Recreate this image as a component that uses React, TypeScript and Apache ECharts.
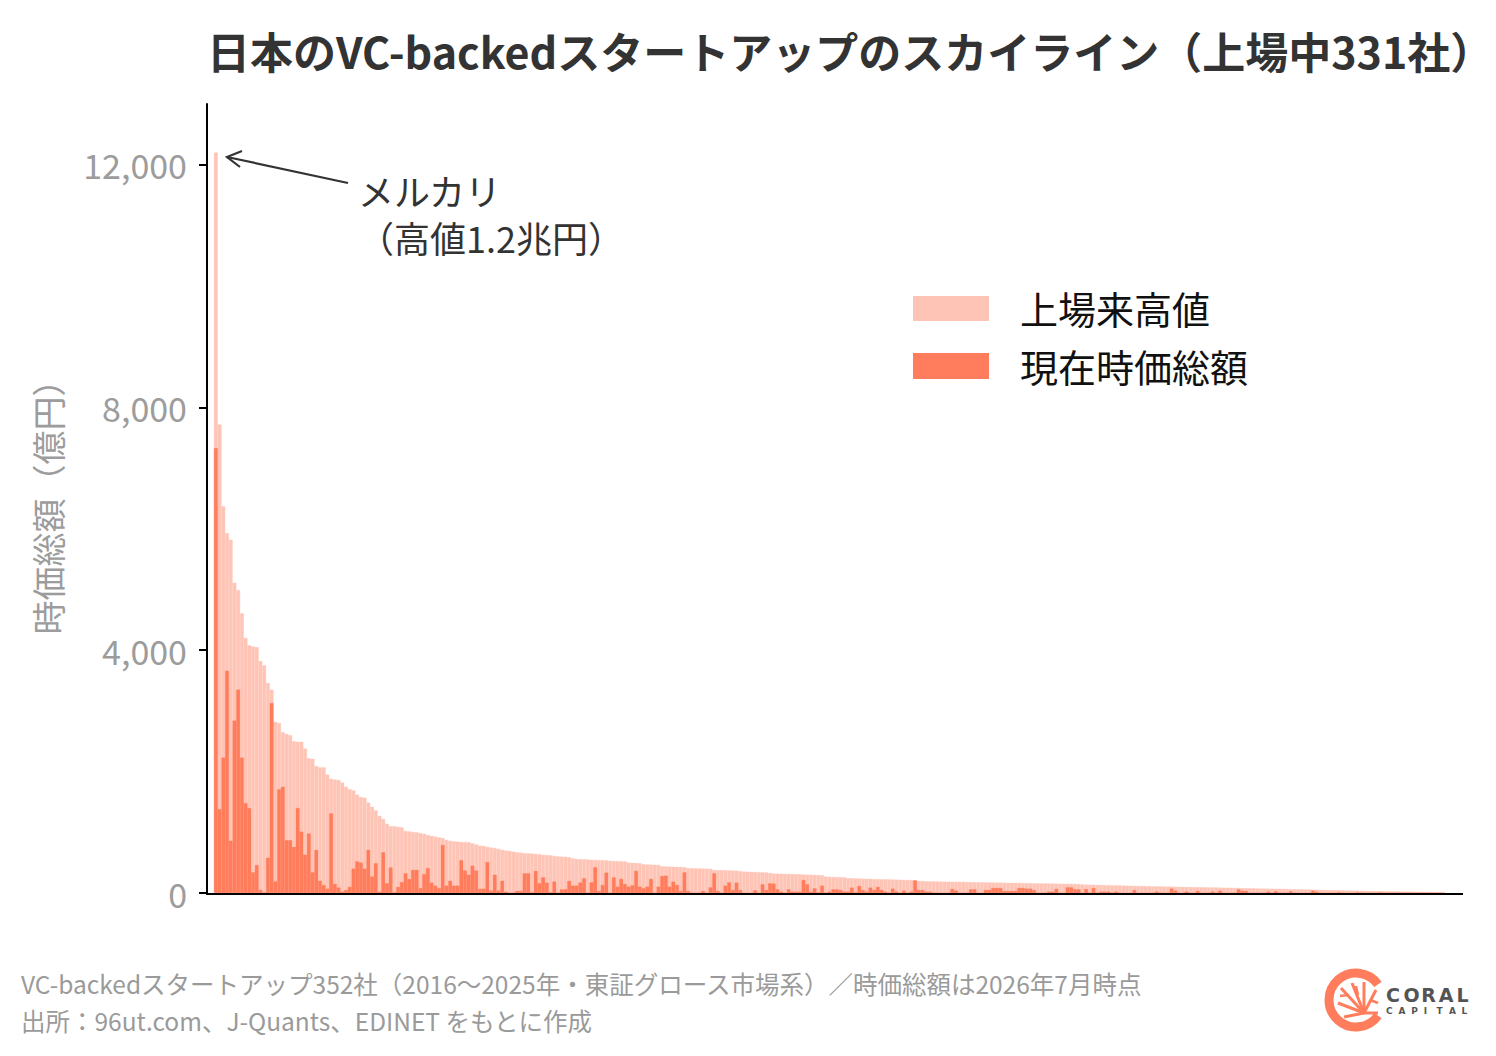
import React, { useEffect, useRef } from "react";
import * as echarts from "echarts";

const FONT = '"Noto Sans CJK JP", "Noto Sans", sans-serif';
const LIGHT = "#FEC5B7";
const DARK = "#FF7D5C";

const titleText = "日本のVC-backedスタートアップのスカイライン（上場中331社）";
const seriesNames = ["上場来高値", "現在時価総額"];
const yAxisName = "時価総額（億円）";
const yTicks = [0, 4000, 8000, 12000];
const annotationLines = ["メルカリ", "（高値1.2兆円）"];
const footnoteLines = [
  "VC-backedスタートアップ352社（2016〜2025年・東証グロース市場系）／時価総額は2026年7月時点",
  "出所：96ut.com、J-Quants、EDINET をもとに作成",
];
const logoWord1 = "CORAL";
const logoWord2 = "CAPITAL";

// 上場来高値 (億円), ranked
const highValues = [
  12200, 7720, 6370, 5930, 5820, 5110, 4990, 4610, 4200, 4080,
  4060, 4050, 3820, 3750, 3460, 3350, 2820, 2800, 2650, 2620,
  2600, 2500, 2490, 2490, 2380, 2220, 2210, 2090, 2070, 2070,
  1950, 1880, 1870, 1860, 1820, 1750, 1710, 1690, 1620, 1580,
  1570, 1490, 1420, 1360, 1270, 1220, 1140, 1100, 1100, 1090,
  1080, 1020, 1015, 1005, 1000, 985, 975, 955, 940, 928,
  915, 905, 875, 860, 850, 845, 840, 838, 835, 818,
  800, 780, 775, 760, 748, 740, 725, 710, 700, 692,
  680, 670, 665, 655, 653, 650, 643, 640, 628, 626,
  620, 610, 602, 599, 595, 590, 570, 560, 558, 556,
  552, 546, 544, 542, 540, 538, 530, 527, 525, 522,
  520, 500, 498, 495, 490, 473, 470, 468, 465, 462,
  440, 436, 434, 432, 430, 428, 425, 410, 408, 406,
  404, 402, 400, 398, 380, 378, 377, 375, 372, 370,
  368, 360, 352, 350, 348, 346, 343, 340, 338, 330,
  320, 318, 316, 315, 314, 312, 310, 308, 304, 302,
  300, 298, 296, 294, 270, 266, 264, 262, 260, 258,
  245, 242, 240, 238, 236, 234, 232, 230, 228, 226,
  225, 224, 222, 220, 218, 216, 214, 212, 200, 198,
  196, 194, 192, 190, 189, 188, 187, 186, 185, 184,
  183, 182, 180, 179, 178, 177, 176, 175, 174, 172,
  171, 170, 169, 168, 167, 166, 165, 164, 163, 162,
  160, 159, 158, 157, 156, 155, 154, 153, 152, 151,
  150, 149, 148, 140, 138, 136, 135, 134, 132, 130,
  128, 127, 126, 124, 122, 120, 119, 118, 116, 115,
  113, 112, 110, 109, 108, 106, 105, 104, 102, 101,
  100, 99, 98, 97, 96, 95, 94, 92, 91, 90,
  89, 87, 86, 85, 83, 82, 80, 79, 77, 76,
  74, 73, 72, 71, 70, 69, 68, 67, 66, 64,
  63, 62, 60, 58, 57, 55, 54, 52, 51, 49,
  48, 47, 45, 44, 42, 41, 39, 38, 36, 35,
  33, 32, 31, 30, 29, 28, 27, 26, 25, 24,
  23, 22, 21, 20, 19, 18, 17, 16, 15, 13, 11,
];

// 現在時価総額 (億円), same order
const currentValues = [
  7330, 1380, 2230, 3660, 860, 2840, 3350, 2230, 1480, 1400,
  340, 460, 50, 10, 580, 3130, 190, 1710, 1750, 870,
  870, 760, 1400, 1010, 630, 980, 340, 710, 200, 130,
  70, 1310, 150, 90, 20, 50, 100, 400, 520, 500,
  400, 710, 270, 490, 20, 670, 160, 420, 10, 100,
  180, 324, 230, 380, 380, 80, 310, 410, 170, 120,
  80, 790, 120, 200, 120, 120, 540, 370, 300, 450,
  370, 66, 70, 510, 40, 300, 40, 200, 20, 0,
  5, 33, 33, 324, 324, 11, 363, 160, 258, 170,
  11, 187, 5, 60, 60, 198, 121, 121, 170, 242,
  0, 176, 423, 33, 132, 335, 0, 258, 104, 231,
  148, 104, 126, 363, 104, 77, 104, 231, 0, 104,
  280, 286, 104, 187, 132, 33, 341, 33, 0, 0,
  0, 33, 0, 93, 324, 33, 0, 121, 176, 49,
  170, 49, 0, 0, 0, 44, 0, 143, 49, 159,
  154, 60, 22, 0, 60, 22, 22, 22, 214, 143,
  22, 77, 11, 121, 0, 22, 60, 60, 49, 22,
  22, 88, 11, 115, 49, 22, 88, 49, 99, 49,
  22, 0, 71, 22, 0, 38, 0, 22, 209, 49,
  49, 22, 22, 0, 0, 0, 0, 0, 66, 40,
  0, 0, 0, 60, 60, 0, 0, 49, 49, 82,
  82, 82, 33, 33, 33, 33, 82, 82, 71, 71,
  49, 0, 0, 0, 22, 22, 66, 0, 0, 93,
  93, 60, 60, 0, 66, 0, 82, 0, 22, 22,
  22, 0, 22, 0, 0, 0, 0, 49, 0, 0,
  0, 0, 0, 22, 0, 0, 0, 71, 38, 0,
  0, 22, 0, 0, 33, 0, 0, 0, 22, 0,
  38, 0, 0, 0, 0, 60, 33, 33, 0, 0,
  0, 0, 0, 22, 0, 27, 0, 0, 0, 27,
  0, 0, 0, 0, 0, 38, 20, 0, 0, 0,
  0, 0, 11, 0, 0, 0, 0, 11, 0, 0,
  0, 0, 0, 11, 0, 0, 0, 0, 0, 0,
  0, 0, 0, 0, 0, 0, 0, 0, 0, 0, 0,
];

const categories = highValues.map((_, i) => String(i + 1));

export default function App() {
  const ref = useRef<HTMLDivElement>(null);

  useEffect(() => {
    if (!ref.current) return;
    const chart = echarts.init(ref.current, undefined, { renderer: "svg" });

    const coralColor = DARK;
    const logoFont = '"DejaVu Sans", sans-serif';
    const letters1 = logoWord1.split("").map((ch, i) => ({
      type: "text",
      x: 1386 + i * 17.6,
      y: 995,
      style: {
        text: ch,
        fontSize: 19,
        fontWeight: "bold",
        fontFamily: logoFont,
        fill: "#545454",
        align: "left",
        verticalAlign: "middle",
      },
    }));
    const letters2 = logoWord2.split("").map((ch, i) => ({
      type: "text",
      x: 1386 + i * 12.6,
      y: 1011,
      style: {
        text: ch,
        fontSize: 9,
        fontWeight: "bold",
        fontFamily: logoFont,
        fill: "#545454",
        align: "left",
        verticalAlign: "middle",
      },
    }));

    const option: any = {
      animation: false,
      textStyle: { fontFamily: FONT },
      grid: { left: 214, right: 51, top: 104, bottom: 163, containLabel: false },
      xAxis: {
        type: "category",
        data: categories,
        boundaryGap: true,
        axisLine: { show: false },
        axisTick: { show: false },
        axisLabel: { show: false },
        splitLine: { show: false },
      },
      yAxis: {
        type: "value",
        min: 0,
        max: 13000,
        interval: 4000,
        offset: 7,
        name: yAxisName,
        nameLocation: "middle",
        nameRotate: 90,
        nameGap: 143,
        nameTextStyle: { color: "#9c9c9c", fontSize: 34, fontFamily: FONT },
        axisLine: { show: true, lineStyle: { color: "#000", width: 2 } },
        axisTick: {
          show: true,
          length: 8,
          lineStyle: { color: "#000", width: 2 },
          customValues: yTicks,
        },
        axisLabel: {
          customValues: yTicks,
          color: "#9c9c9c",
          fontSize: 34,
          fontFamily: FONT,
          margin: 20,
          formatter: (v: number) => v.toLocaleString("en-US"),
        },
        splitLine: { show: false },
      },
      series: [
        {
          name: seriesNames[0],
          type: "bar",
          data: highValues,
          barGap: "-100%",
          barCategoryGap: "0%",
          itemStyle: { color: LIGHT, borderColor: LIGHT, borderWidth: 0.4 },
          silent: true,
        },
        {
          name: seriesNames[1],
          type: "bar",
          data: currentValues,
          barGap: "-100%",
          barCategoryGap: "0%",
          itemStyle: { color: DARK, borderColor: DARK, borderWidth: 0.3 },
          silent: true,
        },
      ],
      graphic: [
        // title
        {
          type: "text",
          x: 207,
          y: 50,
          style: {
            text: titleText,
            fontSize: 43,
            fontWeight: "bold",
            fontFamily: FONT,
            fill: "#333333",
            align: "left",
            verticalAlign: "middle",
          },
        },
        // x axis line
        {
          type: "line",
          shape: { x1: 206, y1: 894, x2: 1463, y2: 894 },
          style: { stroke: "#000", lineWidth: 2.2 },
          z: 100,
        },
        // legend
        {
          type: "rect",
          shape: { x: 913, y: 296, width: 76, height: 25 },
          style: { fill: LIGHT },
        },
        {
          type: "text",
          x: 1020,
          y: 307,
          style: {
            text: seriesNames[0],
            fontSize: 38,
            fontFamily: FONT,
            fill: "#111",
            align: "left",
            verticalAlign: "middle",
          },
        },
        {
          type: "rect",
          shape: { x: 913, y: 353, width: 76, height: 26 },
          style: { fill: DARK },
        },
        {
          type: "text",
          x: 1020,
          y: 365,
          style: {
            text: seriesNames[1],
            fontSize: 38,
            fontFamily: FONT,
            fill: "#111",
            align: "left",
            verticalAlign: "middle",
          },
        },
        // annotation arrow
        {
          type: "line",
          shape: { x1: 348, y1: 183, x2: 227, y2: 157 },
          style: { stroke: "#333", lineWidth: 2.2 },
        },
        {
          type: "polyline",
          shape: { points: [[242, 151], [227, 157], [240, 167]] },
          style: { stroke: "#333", lineWidth: 2.2, fill: null },
        },
        {
          type: "text",
          x: 358,
          y: 190,
          style: {
            text: annotationLines[0],
            fontSize: 36,
            lineHeight: 38,
            fontFamily: FONT,
            fill: "#333",
            align: "left",
            verticalAlign: "middle",
          },
        },
        {
          type: "text",
          x: 358,
          y: 237,
          style: {
            text: annotationLines[1],
            fontSize: 36,
            lineHeight: 38,
            fontFamily: FONT,
            fill: "#333",
            align: "left",
            verticalAlign: "middle",
          },
        },
        // footnotes
        {
          type: "text",
          x: 21,
          y: 983,
          style: {
            text: footnoteLines[0],
            fontSize: 24.5,
            fontFamily: FONT,
            fill: "#9a9a9a",
            align: "left",
            verticalAlign: "middle",
          },
        },
        {
          type: "text",
          x: 21,
          y: 1020,
          style: {
            text: footnoteLines[1],
            fontSize: 24.5,
            fontFamily: FONT,
            fill: "#9a9a9a",
            align: "left",
            verticalAlign: "middle",
          },
        },
        // logo: C ring
        {
          type: "arc",
          shape: { cx: 1356, cy: 1000, r: 27, startAngle: 0.62, endAngle: Math.PI * 2 - 0.62, clockwise: true },
          style: { stroke: coralColor, lineWidth: 9, fill: null },
        },
        // logo: coral branches
        {
          type: "group",
          children: [
            { type: "line", shape: { x1: 1364, y1: 1013, x2: 1341, y2: 988 }, style: { stroke: coralColor, lineWidth: 3 } },
            { type: "line", shape: { x1: 1364, y1: 1013, x2: 1352, y2: 983 }, style: { stroke: coralColor, lineWidth: 3 } },
            { type: "line", shape: { x1: 1364, y1: 1013, x2: 1364, y2: 982 }, style: { stroke: coralColor, lineWidth: 3 } },
            { type: "line", shape: { x1: 1364, y1: 1013, x2: 1376, y2: 990 }, style: { stroke: coralColor, lineWidth: 3 } },
            { type: "line", shape: { x1: 1364, y1: 1013, x2: 1338, y2: 1003 }, style: { stroke: coralColor, lineWidth: 3 } },
            { type: "line", shape: { x1: 1364, y1: 1013, x2: 1344, y2: 1017 }, style: { stroke: coralColor, lineWidth: 3 } },
            { type: "line", shape: { x1: 1348, y1: 995, x2: 1340, y2: 996 }, style: { stroke: coralColor, lineWidth: 2.5 } },
            { type: "line", shape: { x1: 1358, y1: 995, x2: 1356, y2: 986 }, style: { stroke: coralColor, lineWidth: 2.5 } },
            { type: "line", shape: { x1: 1370, y1: 1000, x2: 1378, y2: 1003 }, style: { stroke: coralColor, lineWidth: 2.5 } },
            { type: "line", shape: { x1: 1364, y1: 1013, x2: 1378, y2: 1013 }, style: { stroke: coralColor, lineWidth: 3 } },
          ],
        },
        ...letters1,
        ...letters2,
      ],
    };

    chart.setOption(option);
    return () => chart.dispose();
  }, []);

  return (
    <div
      ref={ref}
      style={{ position: "absolute", left: 0, top: 0, width: 1496, height: 1056, background: "#fff" }}
    />
  );
}
